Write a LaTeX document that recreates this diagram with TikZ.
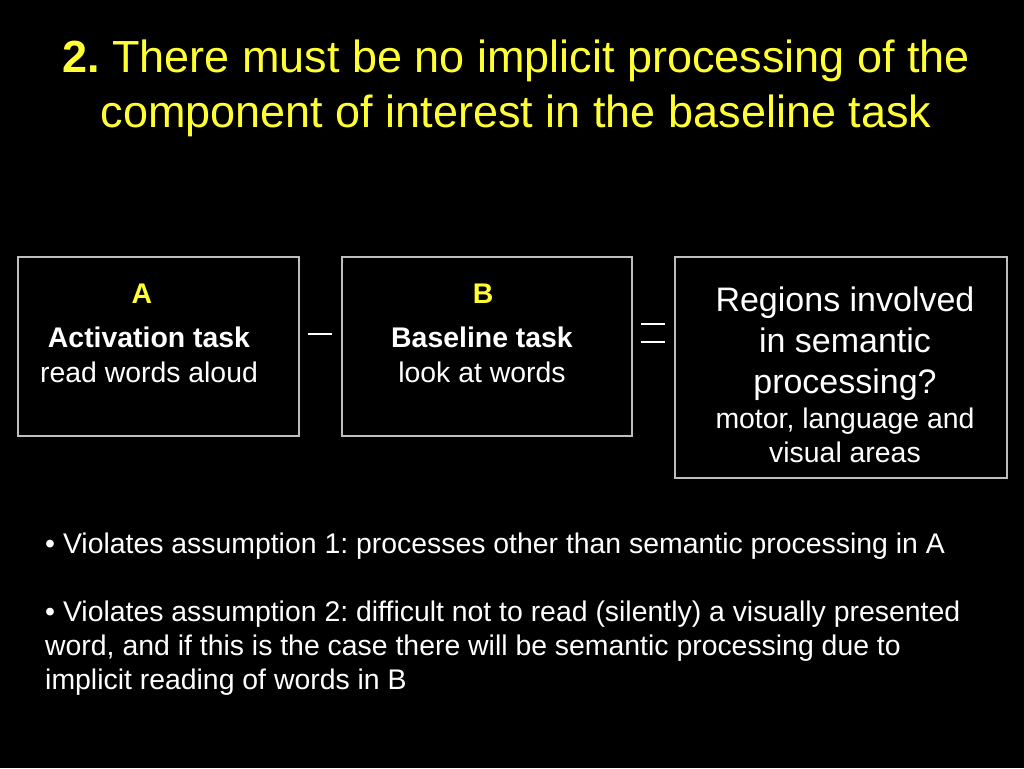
\documentclass[tikz,border=0pt]{standalone}
\usepackage{fontspec}
\setmainfont{Liberation Sans}
\definecolor{ttl}{RGB}{255,255,51}
\definecolor{frame}{RGB}{190,190,190}
\begin{document}
\frenchspacing
\begin{tikzpicture}[x=1pt,y=-1pt,
  box/.style={draw=frame,line width=1.5pt,inner sep=0pt,anchor=north west},
  ttltext/.style={text=ttl,font=\fontsize{45}{54}\selectfont,anchor=base,inner sep=0pt},
  lbl/.style={text=ttl,font=\fontsize{28.4}{34}\selectfont\bfseries,anchor=base,inner sep=0pt},
  boxhead/.style={text=white,font=\fontsize{28.4}{34}\selectfont\bfseries,anchor=base,inner sep=0pt},
  boxtext/.style={text=white,font=\fontsize{28.4}{34}\selectfont,anchor=base,inner sep=0pt},
  bigtext/.style={text=white,font=\fontsize{34}{41}\selectfont,anchor=base,inner sep=0pt},
  bullet/.style={text=white,font=\fontsize{28.4}{34}\selectfont,anchor=base west,inner sep=0pt},
  op/.style={draw=white,line width=2.2pt}
]
\fill[black] (0,0) rectangle (1024,768);
\useasboundingbox (0,0) rectangle (1024,768);

% title
\node[ttltext] (t1) at (516,72) {\textbf{2.} There must be no implicit processing of the};
\node[ttltext] (t2) at (516,127) {component of interest in the baseline task};

% boxes
\node[box,minimum width=281pt,minimum height=179pt] (boxA) at (17,256) {};
\node[box,minimum width=290pt,minimum height=179pt] (boxB) at (341,256) {};
\node[box,minimum width=332pt,minimum height=221pt] (boxC) at (674,256) {};

% box A
\node[lbl] (la) at (142,303) {A};
\node[boxhead] (a1) at (149,347) {Activation task};
\node[boxtext] (a2) at (149,382) {read words aloud};

% box B
\node[lbl] (lb) at (483,303) {B};
\node[boxhead] (b1) at (482,347) {Baseline task};
\node[boxtext] (b2) at (482,382) {look at words};

% box C
\node[bigtext] (c1) at (845,311) {Regions involved};
\node[bigtext] (c2) at (845,352) {in semantic};
\node[bigtext] (c3) at (845,393) {processing?};
\node[boxtext] (c4) at (845,428) {motor, language and};
\node[boxtext] (c5) at (845,462) {visual areas};

% operators
\coordinate (m1) at (308,334);
\coordinate (m2) at (332,334);
\draw[op] (m1) -- (m2);
\coordinate (e1) at (641,324);
\coordinate (e2) at (665,324);
\coordinate (e3) at (641,342);
\coordinate (e4) at (665,342);
\draw[op] (e1) -- (e2);
\draw[op] (e3) -- (e4);

% bullets
\node[bullet] (p1) at (45,553) {\textbullet\ Violates assumption 1: processes other than semantic processing in A};
\node[bullet] (p2) at (45,621) {\textbullet\ Violates assumption 2: difficult not to read (silently) a visually presented};
\node[bullet] (p3) at (45,655) {word, and if this is the case there will be semantic processing due to};
\node[bullet] (p4) at (45,689) {implicit reading of words in B};
\end{tikzpicture}
\end{document}
